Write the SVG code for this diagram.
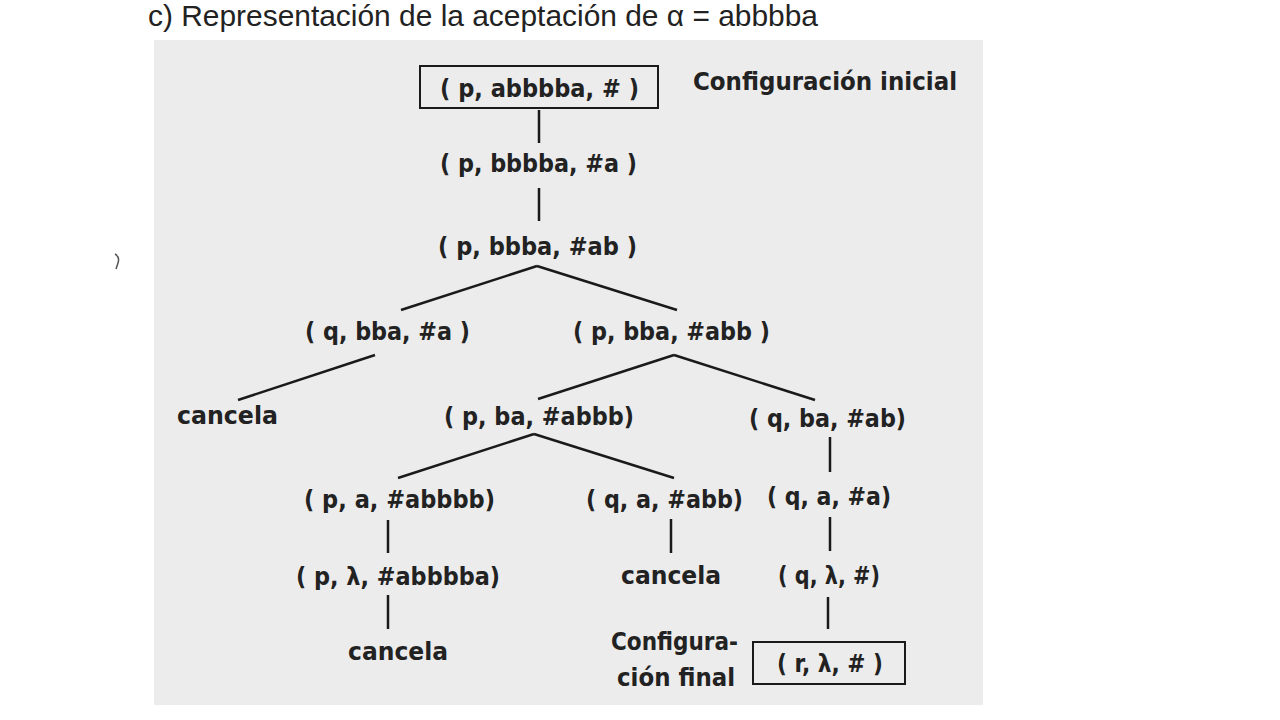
<svg xmlns="http://www.w3.org/2000/svg" width="1280" height="720" viewBox="0 0 1280 720">
<style>
.t{font-family:"DejaVu Sans","Liberation Sans",sans-serif;font-weight:bold;font-size:24px;fill:#222}
.title{font-family:"Liberation Sans Narrow","Liberation Sans",sans-serif;font-size:29px;fill:#222}
.ln{stroke:#1a1a1a;stroke-width:2.5;fill:none;stroke-linecap:butt}
.box{fill:none;stroke:#1a1a1a;stroke-width:2}
</style>
<rect width="1280" height="720" fill="#ffffff"/>
<text class="title" x="148" y="26" textLength="670" lengthAdjust="spacingAndGlyphs">c) Representación de la aceptación de α = abbbba</text>
<path d="M115,254 q5,3 3,9 l-2,6" stroke="#555" stroke-width="1.5" fill="none"/>
<rect x="154" y="40" width="829" height="665" fill="#ececec"/>

<g id="connectors">
<line class="ln" x1="539" y1="110" x2="539" y2="143"/>
<line class="ln" x1="539" y1="188" x2="539" y2="221"/>
<line class="ln" x1="537" y1="266" x2="401" y2="310"/>
<line class="ln" x1="537" y1="266" x2="677" y2="310"/>
<line class="ln" x1="375" y1="355" x2="238" y2="400"/>
<line class="ln" x1="674" y1="355" x2="538" y2="399"/>
<line class="ln" x1="674" y1="355" x2="815" y2="400"/>
<line class="ln" x1="534" y1="434" x2="398" y2="478"/>
<line class="ln" x1="534" y1="434" x2="674" y2="478"/>
<line class="ln" x1="830" y1="437" x2="830" y2="472"/>
<line class="ln" x1="388" y1="520" x2="388" y2="553"/>
<line class="ln" x1="671" y1="519" x2="671" y2="553"/>
<line class="ln" x1="830" y1="517" x2="830" y2="551"/>
<line class="ln" x1="388" y1="595" x2="388" y2="629"/>
<line class="ln" x1="828" y1="597" x2="828" y2="629"/>
</g>

<g id="n1"><rect class="box" x="420" y="66" width="238" height="42"/><text class="t" x="440" y="97" textLength="199" lengthAdjust="spacingAndGlyphs">( p, abbbba, # )</text></g>
<g id="lbl-inicial"><text class="t" x="693" y="90" textLength="264" lengthAdjust="spacingAndGlyphs">Configuración inicial</text></g>
<g id="n2"><text class="t" x="440" y="172" textLength="197" lengthAdjust="spacingAndGlyphs">( p, bbbba, #a )</text></g>
<g id="n3"><text class="t" x="438" y="255" textLength="199" lengthAdjust="spacingAndGlyphs">( p, bbba, #ab )</text></g>
<g id="n4"><text class="t" x="305" y="340" textLength="165" lengthAdjust="spacingAndGlyphs">( q, bba, #a )</text></g>
<g id="n5"><text class="t" x="573" y="340" textLength="197" lengthAdjust="spacingAndGlyphs">( p, bba, #abb )</text></g>
<g id="n6"><text class="t" x="177" y="424" textLength="101" lengthAdjust="spacingAndGlyphs">cancela</text></g>
<g id="n7"><text class="t" x="444" y="425" textLength="190" lengthAdjust="spacingAndGlyphs">( p, ba, #abbb)</text></g>
<g id="n8"><text class="t" x="749" y="427" textLength="157" lengthAdjust="spacingAndGlyphs">( q, ba, #ab)</text></g>
<g id="n9"><text class="t" x="304" y="508" textLength="191" lengthAdjust="spacingAndGlyphs">( p, a, #abbbb)</text></g>
<g id="n10"><text class="t" x="586" y="508" textLength="157" lengthAdjust="spacingAndGlyphs">( q, a, #abb)</text></g>
<g id="n11"><text class="t" x="767" y="505" textLength="124" lengthAdjust="spacingAndGlyphs">( q, a, #a)</text></g>
<g id="n12"><text class="t" x="296" y="585" textLength="204" lengthAdjust="spacingAndGlyphs">( p, λ, #abbbba)</text></g>
<g id="n13"><text class="t" x="621" y="584" textLength="100" lengthAdjust="spacingAndGlyphs">cancela</text></g>
<g id="n14"><text class="t" x="778" y="584" textLength="102" lengthAdjust="spacingAndGlyphs">( q, λ, #)</text></g>
<g id="n15"><text class="t" x="348" y="660" textLength="100" lengthAdjust="spacingAndGlyphs">cancela</text></g>
<g id="lbl-final"><text class="t" x="611" y="650" textLength="127" lengthAdjust="spacingAndGlyphs">Configura-</text><text class="t" x="617" y="686" textLength="118" lengthAdjust="spacingAndGlyphs">ción final</text></g>
<g id="n16"><rect class="box" x="753" y="642" width="152" height="42"/><text class="t" x="777" y="672" textLength="106" lengthAdjust="spacingAndGlyphs">( r, λ, # )</text></g>
</svg>
